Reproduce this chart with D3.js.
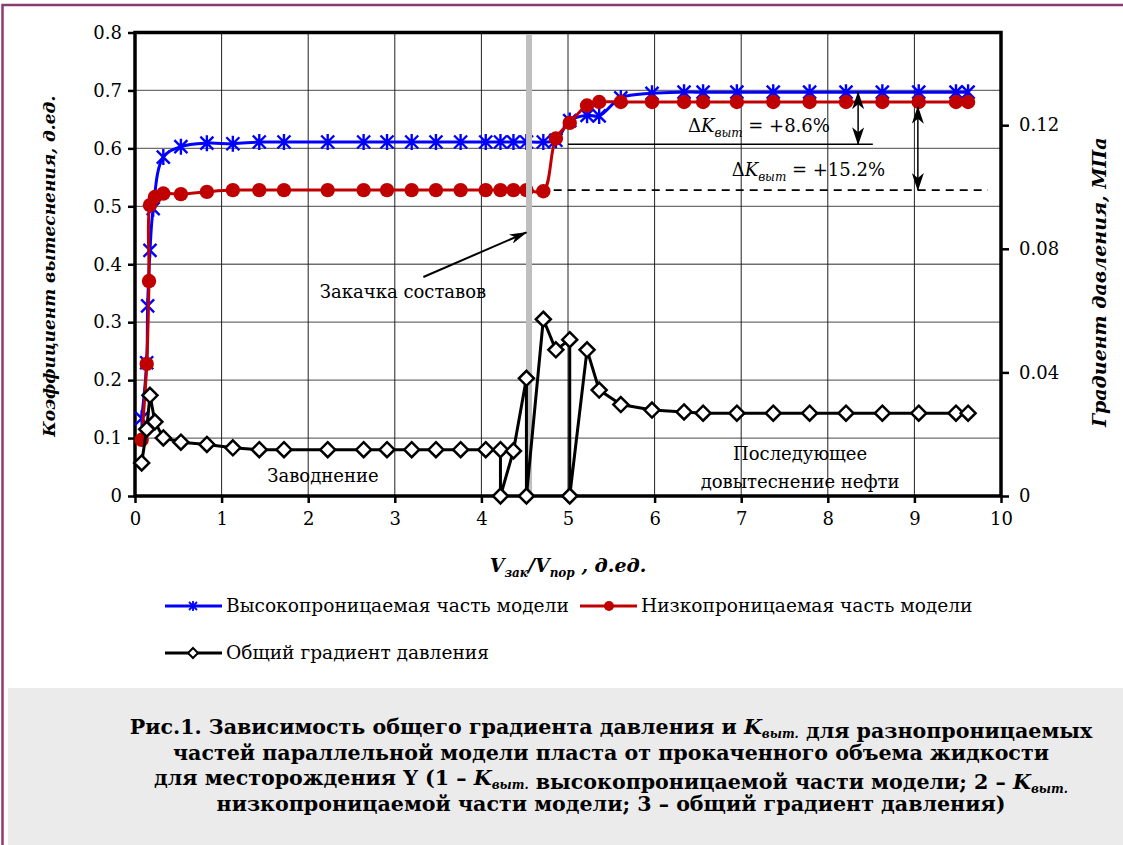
<!DOCTYPE html>
<html>
<head>
    <meta charset="utf-8">
    <script src="https://d3js.org/d3.v7.min.js"></script>
    <style>
      body { margin: 0; background: #fff; }
      text { font-family: "DejaVu Serif", serif; fill: #000; }
    </style>
</head>
<body>
    <script>
      // Высокопроницаемая часть модели (K выт.)
      const highX = [0.077, 0.135, 0.146, 0.173, 0.21, 0.327, 0.53, 0.83, 1.13, 1.435, 1.72, 2.225, 2.64, 2.91, 3.195, 3.475, 3.76, 4.05, 4.22, 4.37, 4.52, 4.715, 4.86, 5.02, 5.22, 5.36, 5.61, 5.97, 6.34, 6.56, 6.95, 7.37, 7.79, 8.21, 8.63, 9.05, 9.48, 9.62];
      const highK = [0.134, 0.23, 0.328, 0.424, 0.496, 0.585, 0.603, 0.609, 0.608, 0.611, 0.611, 0.611, 0.611, 0.611, 0.611, 0.611, 0.611, 0.611, 0.611, 0.611, 0.611, 0.611, 0.614, 0.648, 0.657, 0.656, 0.687, 0.695, 0.697, 0.697, 0.697, 0.697, 0.697, 0.697, 0.697, 0.697, 0.697, 0.697];

      // Низкопроницаемая часть модели (K выт.)
      const lowX = [0.077, 0.135, 0.162, 0.173, 0.23, 0.327, 0.53, 0.83, 1.13, 1.435, 1.72, 2.225, 2.64, 2.91, 3.195, 3.475, 3.76, 4.05, 4.22, 4.37, 4.52, 4.715, 4.86, 5.02, 5.22, 5.36, 5.61, 5.97, 6.34, 6.56, 6.95, 7.37, 7.79, 8.21, 8.63, 9.05, 9.48, 9.62];
      const lowK = [0.097, 0.228, 0.371, 0.502, 0.516, 0.522, 0.521, 0.525, 0.528, 0.528, 0.528, 0.528, 0.528, 0.528, 0.528, 0.528, 0.528, 0.528, 0.528, 0.528, 0.528, 0.526, 0.617, 0.644, 0.674, 0.68, 0.68, 0.68, 0.68, 0.68, 0.68, 0.68, 0.68, 0.68, 0.68, 0.68, 0.68, 0.68];

      // Общий градиент давления, МПа (правая ось)
      const gradX = [0.077, 0.135, 0.173, 0.23, 0.327, 0.53, 0.83, 1.13, 1.435, 1.72, 2.225, 2.64, 2.91, 3.195, 3.475, 3.76, 4.05, 4.22, 4.22, 4.37, 4.52, 4.52, 4.715, 4.86, 5.02, 5.02, 5.22, 5.36, 5.61, 5.97, 6.34, 6.56, 6.95, 7.37, 7.79, 8.21, 8.63, 9.05, 9.48, 9.62];
      const gradP = [0.0107, 0.0216, 0.0326, 0.024, 0.0188, 0.0174, 0.0167, 0.0156, 0.015, 0.015, 0.015, 0.015, 0.015, 0.015, 0.015, 0.015, 0.015, 0.015, 0, 0.0146, 0.0381, 0, 0.0572, 0.0473, 0.0506, 0, 0.0473, 0.0343, 0.0296, 0.0278, 0.0272, 0.0268, 0.0268, 0.0268, 0.0268, 0.0268, 0.0268, 0.0268, 0.0268, 0.0268];

      const xTicks = [0, 1, 2, 3, 4, 5, 6, 7, 8, 9, 10];
      const yLeftTicks = [0, 0.1, 0.2, 0.3, 0.4, 0.5, 0.6, 0.7, 0.8];
      const yRightTicks = [0, 0.04, 0.08, 0.12];

      const injectionX = 4.55;   // начало закачки составов
      const level86 = 0.607;     // уровень для +8.6%
      const level152 = 0.528;    // уровень для +15.2%

      const legendNames = ['Высокопроницаемая часть модели', 'Низкопроницаемая часть модели', 'Общий градиент давления'];
      const captionLines = [
        ['Рис.1. Зависимость общего градиента давления и ', 'K', 'выт.', ' для разнопроницаемых'],
        ['частей параллельной модели пласта от прокаченного объема жидкости'],
        ['для месторождения Y (1 – ', 'K', 'выт.', ' высокопроницаемой части модели; 2 – ', 'K', 'выт.'],
        ['низкопроницаемой части модели; 3 – общий градиент давления)']
      ];

      const W = 1123, H = 845;
      const svg = d3.select('body').append('svg')
          .attr('width', W).attr('height', H);

      // frame and caption background
      svg.append('rect').attr('x', 8).attr('y', 688).attr('width', W - 8).attr('height', H - 688).attr('fill', '#ebebeb');
      svg.append('path').attr('d', `M2.5,${H} L2.5,5 L${W},5`).attr('fill', 'none')
          .attr('stroke', '#8c3b72').attr('stroke-width', 2.5);

      const x = d3.scaleLinear().domain([0, 10]).range([135, 1001]);
      const yL = d3.scaleLinear().domain([0, 0.8]).range([496, 32.5]);
      const yR = d3.scaleLinear().domain([0, 0.15]).range([496, 32.5]);

      // grid
      svg.append('g').selectAll('line').data(yLeftTicks.slice(1, -1)).join('line')
          .attr('x1', x(0)).attr('x2', x(10)).attr('y1', d => yL(d)).attr('y2', d => yL(d))
          .attr('stroke', '#6e6e6e').attr('stroke-width', 1.3);
      svg.append('g').selectAll('line').data(xTicks.slice(1, -1)).join('line')
          .attr('x1', d => x(d)).attr('x2', d => x(d)).attr('y1', yL(0)).attr('y2', yL(0.8))
          .attr('stroke', '#222').attr('stroke-width', 1);

      // axes
      const axL = svg.append('g').attr('transform', `translate(${x(0)},0)`)
          .call(d3.axisLeft(yL).tickValues(yLeftTicks).tickFormat(d3.format('')).tickSize(7).tickPadding(6));
      const axB = svg.append('g').attr('transform', `translate(0,${yL(0)})`)
          .call(d3.axisBottom(x).tickValues(xTicks).tickSize(7).tickPadding(9));
      const axR = svg.append('g').attr('transform', `translate(${x(10)},0)`)
          .call(d3.axisRight(yR).tickValues(yRightTicks).tickFormat(d3.format('')).tickSize(8).tickPadding(10));
      [axL, axB, axR].forEach(a => {
        a.selectAll('.domain').remove();
        a.selectAll('.tick line').attr('stroke', '#000').attr('stroke-width', 2.5);
        a.selectAll('.tick text').style('font-family', '"DejaVu Serif", serif').style('font-size', '18px').attr('fill', '#000');
      });
      svg.append('rect').attr('x', x(0)).attr('y', yL(0.8)).attr('width', x(10) - x(0)).attr('height', yL(0) - yL(0.8))
          .attr('fill', 'none').attr('stroke', '#000').attr('stroke-width', 3.5);

      // helper lines for annotations
      svg.append('line').attr('x1', x(5.0)).attr('x2', x(8.52)).attr('y1', yL(level86)).attr('y2', yL(level86))
          .attr('stroke', '#000').attr('stroke-width', 1.6);
      svg.append('line').attr('x1', x(4.35)).attr('x2', x(9.85)).attr('y1', yL(level152)).attr('y2', yL(level152))
          .attr('stroke', '#000').attr('stroke-width', 1.6).attr('stroke-dasharray', '8,6');

      const smooth = d3.curveCatmullRom.alpha(0.5);
      const high = highX.map((v, i) => [v, highK[i]]);
      const low = lowX.map((v, i) => [v, lowK[i]]);
      const grad = gradX.map((v, i) => [v, gradP[i]]);

      const lineL = d3.line().x(d => x(d[0])).y(d => yL(d[1])).curve(smooth);
      const lineR = d3.line().x(d => x(d[0])).y(d => yR(d[1]));

      const star = 'M-6.5,-6.5L6.5,6.5M-6.5,6.5L6.5,-6.5M0,-8L0,8';
      const diamond = 'M0,-7.5L7.5,0L0,7.5L-7.5,0Z';

      // blue
      svg.append('path').datum(high).attr('d', lineL).attr('fill', 'none').attr('stroke', '#0000ff').attr('stroke-width', 3);
      svg.append('g').selectAll('path').data(high).join('path')
          .attr('transform', d => `translate(${x(d[0])},${yL(d[1])})`).attr('d', star)
          .attr('stroke', '#0000ff').attr('stroke-width', 2.4).attr('fill', 'none');
      // red
      svg.append('path').datum(low).attr('d', lineL).attr('fill', 'none').attr('stroke', '#c00000').attr('stroke-width', 3);
      svg.append('g').selectAll('circle').data(low).join('circle')
          .attr('cx', d => x(d[0])).attr('cy', d => yL(d[1])).attr('r', 7.2).attr('fill', '#c00000');

      // gray bar (start of injection)
      svg.append('line').attr('x1', x(injectionX)).attr('x2', x(injectionX)).attr('y1', yL(0.8) + 2).attr('y2', yL(0))
          .attr('stroke', '#bfbfbf').attr('stroke-width', 6);

      // black (right axis)
      svg.append('path').datum(grad).attr('d', lineR).attr('fill', 'none').attr('stroke', '#000').attr('stroke-width', 3).attr('stroke-linejoin', 'round');
      svg.append('g').selectAll('path').data(grad).join('path')
          .attr('transform', d => `translate(${x(d[0])},${yR(d[1])})`).attr('d', diamond)
          .attr('stroke', '#000').attr('stroke-width', 2.5).attr('fill', '#fff');

      // arrows
      const defs = svg.append('defs');
      defs.append('marker').attr('id', 'head').attr('viewBox', '0 -6 18 12').attr('refX', 17).attr('refY', 0)
          .attr('markerWidth', 18).attr('markerHeight', 12).attr('markerUnits', 'userSpaceOnUse').attr('orient', 'auto-start-reverse')
          .append('path').attr('d', 'M0,-6L18,0L0,6L5,0Z').attr('fill', '#000');
      defs.append('marker').attr('id', 'head2').attr('viewBox', '0 -5 18 10').attr('refX', 17).attr('refY', 0)
          .attr('markerWidth', 18).attr('markerHeight', 10).attr('markerUnits', 'userSpaceOnUse').attr('orient', 'auto-start-reverse')
          .append('path').attr('d', 'M0,-5L18,0L0,5L5,0Z').attr('fill', '#000');

      svg.append('line').attr('x1', x(3.33)).attr('y1', yL(0.378)).attr('x2', x(4.52)).attr('y2', yL(0.455))
          .attr('stroke', '#000').attr('stroke-width', 2).attr('marker-end', 'url(#head2)');
      svg.append('line').attr('x1', x(8.35)).attr('y1', yL(0.697)).attr('x2', x(8.35)).attr('y2', yL(level86))
          .attr('stroke', '#000').attr('stroke-width', 1.5).attr('marker-start', 'url(#head)').attr('marker-end', 'url(#head)');
      svg.append('line').attr('x1', x(9.04)).attr('y1', yL(0.672)).attr('x2', x(9.04)).attr('y2', yL(level152))
          .attr('stroke', '#000').attr('stroke-width', 1.5).attr('marker-start', 'url(#head)').attr('marker-end', 'url(#head)');

      // annotation texts
      function deltaText(px, py, val) {
        const t = svg.append('text').attr('x', px).attr('y', py).style('font-size', '18px');
        t.append('tspan').text('Δ');
        t.append('tspan').style('font-style', 'italic').text('K');
        t.append('tspan').style('font-style', 'italic').style('font-size', '12px').attr('dy', 5).text('выт');
        t.append('tspan').attr('dy', -5).text(' = ' + val);
      }
      deltaText(x(6.385), yL(0.628), '+8.6%');
      deltaText(x(6.89), yL(0.552), '+15.2%');

      svg.append('text').attr('x', x(3.095)).attr('y', yL(0.341)).attr('text-anchor', 'middle').style('font-size', '18px').text('Закачка составов');
      svg.append('text').attr('x', x(2.17)).attr('y', yL(0.025)).attr('text-anchor', 'middle').style('font-size', '18px').text('Заводнение');
      svg.append('text').attr('x', x(7.68)).attr('y', yL(0.062)).attr('text-anchor', 'middle').style('font-size', '18px').text('Последующее');
      svg.append('text').attr('x', x(7.68)).attr('y', yL(0.014)).attr('text-anchor', 'middle').style('font-size', '18px').text('довытеснение нефти');

      // axis titles
      svg.append('text').attr('transform', `translate(55,${(yL(0) + yL(0.8)) / 2 + 2}) rotate(-90)`).attr('text-anchor', 'middle')
          .style('font-size', '17px').style('font-weight', 'bold').style('font-style', 'italic').text('Коэффициент вытеснения, д.ед.');
      svg.append('text').attr('transform', `translate(1106,${(yL(0) + yL(0.8)) / 2 + 18}) rotate(-90)`).attr('text-anchor', 'middle')
          .style('font-size', '19px').style('font-weight', 'bold').style('font-style', 'italic').text('Градиент давления, МПа');
      const xt = svg.append('text').attr('x', x(5)).attr('y', 572).attr('text-anchor', 'middle')
          .style('font-size', '19px').style('font-weight', 'bold').style('font-style', 'italic');
      xt.append('tspan').text('V');
      xt.append('tspan').attr('dy', 5).style('font-size', '12px').text('зак');
      xt.append('tspan').attr('dy', -5).text('/V');
      xt.append('tspan').attr('dy', 5).style('font-size', '12px').text('пор');
      xt.append('tspan').attr('dy', -5).text(' , д.ед.');

      // legend
      const legendItems = [
        {name: legendNames[0], color: '#0000ff', x0: 165, y0: 606, mark: 'star'},
        {name: legendNames[1], color: '#c00000', x0: 580, y0: 606, mark: 'dot'},
        {name: legendNames[2], color: '#000', x0: 165, y0: 653, mark: 'diamond'}
      ];
      const lg = svg.append('g').selectAll('g').data(legendItems).join('g')
          .attr('transform', d => `translate(${d.x0},${d.y0})`);
      lg.append('line').attr('x1', 0).attr('x2', 57).attr('stroke', d => d.color).attr('stroke-width', 3);
      lg.filter(d => d.mark === 'star').append('path').attr('transform', 'translate(28,0)').attr('d', 'M-4,-4L4,4M-4,4L4,-4M0,-5L0,5')
          .attr('stroke', '#0000ff').attr('stroke-width', 1.8);
      lg.filter(d => d.mark === 'dot').append('circle').attr('cx', 29).attr('r', 5).attr('fill', '#c00000');
      lg.filter(d => d.mark === 'diamond').append('path').attr('transform', 'translate(28,0)').attr('d', 'M0,-5L5,0L0,5L-5,0Z')
          .attr('stroke', '#000').attr('stroke-width', 2).attr('fill', '#fff');
      lg.append('text').attr('x', 61).attr('y', 6).style('font-size', '18.6px').text(d => d.name);

      // caption
      const cap = svg.append('g');
      captionLines.forEach((parts, i) => {
        const t = cap.append('text').attr('x', 611).attr('y', 734 + i * 25.7).attr('text-anchor', 'middle')
            .style('font-size', '20.6px').style('font-weight', 'bold');
        parts.forEach(p => {
          if (p === 'K') {
            t.append('tspan').style('font-style', 'italic').text('K');
          } else if (p === 'выт.') {
            t.append('tspan').style('font-style', 'italic').style('font-size', '12px').attr('dy', 4).text('выт.');
            t.append('tspan').attr('dy', -4).text('');
          } else {
            t.append('tspan').text(p);
          }
        });
      });
    </script>
</body>
</html>
